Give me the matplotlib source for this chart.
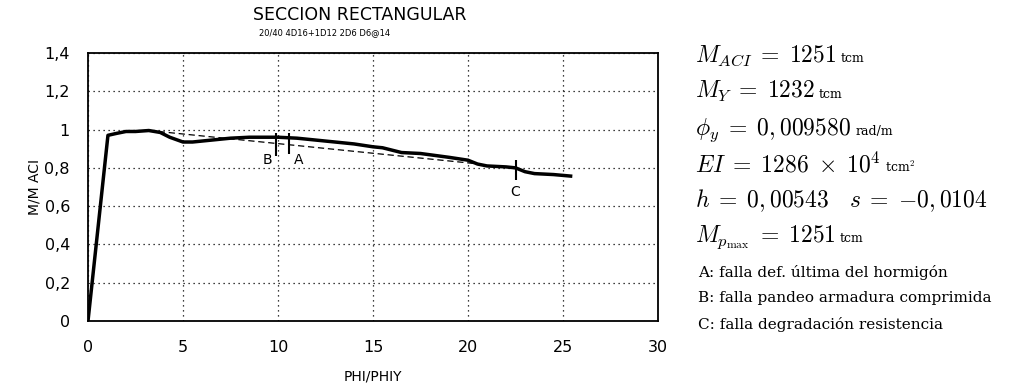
import matplotlib
matplotlib.use("Agg")
import matplotlib.pyplot as plt
from matplotlib.ticker import FuncFormatter

plt.rcParams['mathtext.fontset'] = 'cm'

# curve M/M_ACI vs PHI/PHIY
phi = [0, 1.05, 1.5, 2.0, 2.5, 3.2, 3.8, 4.3, 5.0, 5.5, 6.5, 7.5, 8.5, 10, 11,
       12, 13, 14, 15, 15.5, 16.5, 17.5, 19, 20, 20.5, 21, 22, 22.5, 23, 23.5,
       24.5, 25.4]
mom = [0, 0.97, 0.98, 0.99, 0.99, 0.995, 0.985, 0.96, 0.935, 0.935, 0.945,
       0.955, 0.96, 0.96, 0.955, 0.945, 0.935, 0.925, 0.91, 0.905, 0.88, 0.875,
       0.855, 0.84, 0.82, 0.81, 0.805, 0.80, 0.78, 0.77, 0.765, 0.757]

# dashed reference line
ref_x = [3.2, 20.6]
ref_y = [0.995, 0.82]

# failure marks
mark_lbl = ['A', 'B', 'C']
mark_x = [10.6, 9.9, 22.5]
mark_lo = [0.87, 0.86, 0.735]
mark_hi = [0.98, 0.98, 0.84]

xticks = [0, 5, 10, 15, 20, 25, 30]
yticks = [0, 0.2, 0.4, 0.6, 0.8, 1.0, 1.2, 1.4]

info = [(r'$M_{ACI}\;=\;1251$', 'tcm'),
        (r'$M_{Y}\;=\;1232$', 'tcm'),
        (r'$\phi_y\;=\;0,009580$', 'rad/m'),
        (r'$EI\;=\;1286\;\times\;10^4$', r'tcm$^2$'),
        (r'$h\;=\;0,00543\quad s\;=\;{-}0,0104$', ''),
        (r'$M_{p_{\mathrm{max}}}\;=\;1251$', 'tcm')]
notes = ['A: falla def. última del hormigón',
         'B: falla pandeo armadura comprimida',
         'C: falla degradación resistencia']

W, H = 1019, 386
fig = plt.figure(figsize=(W/100, H/100), dpi=100)
ax = fig.add_axes([88/W, 1-321/H, (658-88)/W, (321-53)/H])

ax.plot(phi, mom, color='k', lw=2.5, solid_joinstyle='round')
ax.plot(ref_x, ref_y, color='k', lw=0.9, ls=(0, (5, 3)))
ax.vlines(mark_x, mark_lo, mark_hi, color='k', lw=1.5)
for lbl, x, lo in zip(mark_lbl, mark_x, mark_lo):
    if lbl == 'B':
        ax.text(x - 0.2, lo - 0.02, lbl, ha='right', va='center', fontsize=10)
    elif lbl == 'A':
        ax.text(x + 0.25, lo - 0.03, lbl, ha='left', va='center', fontsize=10)
    else:
        ax.text(x, lo - 0.025, lbl, ha='center', va='top', fontsize=10)

ax.set_xlim(0, 30)
ax.set_ylim(0, 1.4)
ax.set_xticks(xticks)
ax.set_yticks(yticks)
ax.yaxis.set_major_formatter(FuncFormatter(
    lambda v, p: ('%g' % round(v, 1)).replace('.', ',')))
ax.tick_params(length=0, labelsize=11.5)
ax.tick_params(axis='y', pad=13)
ax.tick_params(axis='x', pad=14)
ax.grid(True, color='k', ls=(0, (1, 3)), lw=0.9)
for s in ax.spines.values():
    s.set_linewidth(1.3)
ax.set_xlabel('PHI/PHIY', fontsize=10, labelpad=10)
ax.set_ylabel('M/M ACI', fontsize=10, labelpad=2)

fig.text(360/W, 1-15/H, 'SECCION RECTANGULAR', ha='center', va='center',
         fontsize=12.5)
fig.text(325/W, 1-33/H, '20/40 4D16+1D12 2D6 D6@14', ha='center',
         va='center', fontsize=6.0)

fig.canvas.draw()
r = fig.canvas.get_renderer()
baselines = [62, 98, 135, 172, 207, 242]
for (main, unit), y in zip(info, baselines):
    t = fig.text(695/W, 1-y/H, main, fontsize=17, va='baseline')
    if unit:
        bb = t.get_window_extent(r)
        fig.text((bb.x1 + 4)/W, 1-y/H, unit, fontsize=9,
                 va='baseline', family='DejaVu Serif')
for n, y in zip(notes, [272, 298, 325]):
    fig.text(698/W, 1-y/H, n, fontsize=11, va='center',
             family='DejaVu Serif')

fig.savefig('out.png', dpi=100)
